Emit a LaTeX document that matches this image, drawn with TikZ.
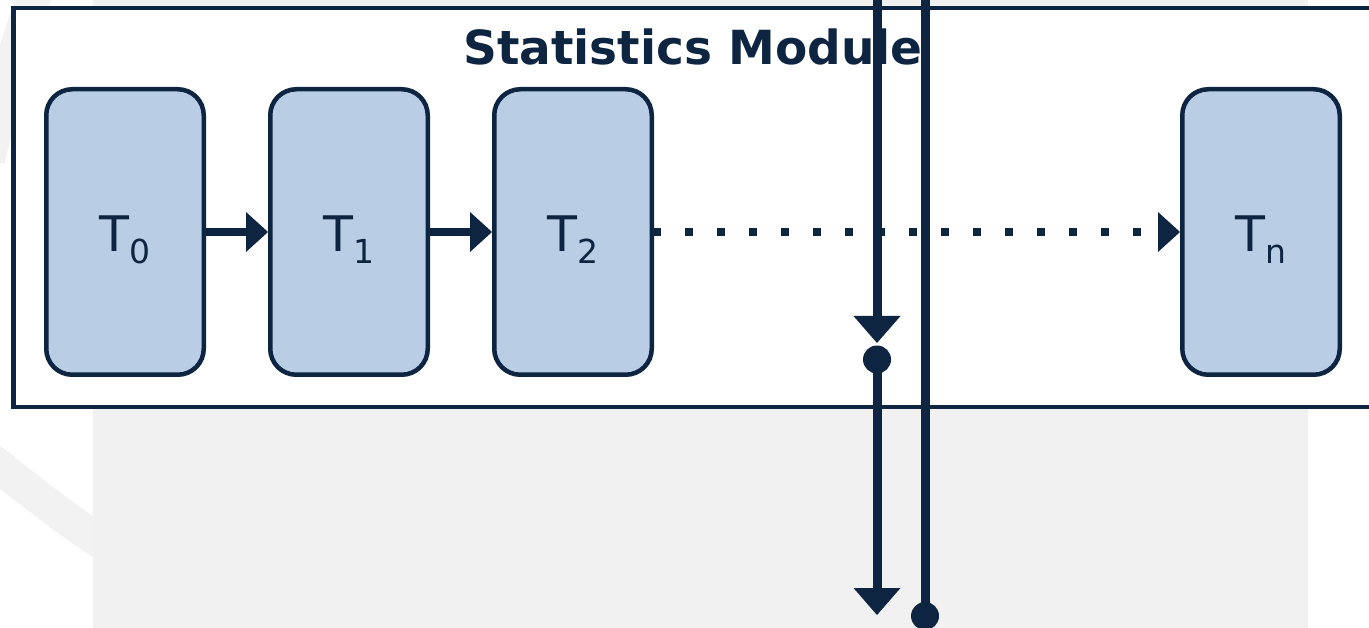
\documentclass[tikz,border=0pt]{standalone}
\usepackage{fontspec}
\setmainfont{DejaVu Sans}
\usetikzlibrary{arrows.meta}

\definecolor{navy}{HTML}{0D2541}
\definecolor{taskfill}{HTML}{B9CDE4}
\definecolor{panelgray}{HTML}{F1F1F1}
\definecolor{ringgray}{HTML}{F2F2F2}

% T with a lowered index, as used on every task box
\newcommand{\tasklabel}[1]{\fontsize{49}{49}\selectfont T\raisebox{-12pt}{\fontsize{33}{33}\selectfont #1}}

\tikzset{
  taskbox/.style={draw=navy, fill=taskfill, line width=4.5pt, rounded corners=26pt,
    minimum width=157.5pt, minimum height=285.5pt, inner sep=0pt, outer sep=2.25pt,
    text=navy, text height=40pt, text depth=0pt},
  flow/.style={navy, line width=8pt, -{Triangle[length=22pt,width=40pt,line width=0pt]}},
  dotflow/.style={navy, line width=8pt, dash pattern=on 8pt off 24pt,
    -{Triangle[length=22pt,width=40pt,line width=0pt]}},
  wire/.style={navy, line width=9pt},
  wirearrow/.style={wire, -{Triangle[length=27pt,width=47pt,line width=0pt]}},
  junction/.style={circle, fill=navy, minimum size=28pt, inner sep=0pt, outer sep=0pt},
  module/.style={draw=navy, fill=white, line width=4.5pt},
  swoosh/.style={draw=ringgray, line width=34pt}
}

\begin{document}
\begin{tikzpicture}[x=1pt,y=-1pt]
  \useasboundingbox (0,0) rectangle (1369,628);
  \clip (0,0) rectangle (1369,628);

  % backdrop: faint swooshes and grey panel
  \draw[swoosh] (-12,160) .. controls (2,100) and (14,50) .. (40,-20);
  \draw[swoosh] (-30,444) .. controls (30,490) and (60,516) .. (110,548);
  \fill[panelgray] (93,-5) rectangle (1308,640);

  % module frame
  \draw[module] (13.3,7.8) rectangle (1400,407);
  \node[navy, anchor=base, font=\fontsize{47}{47}\selectfont\bfseries] (title)
    at (693,65) {Statistics Module};

  % tasks
  \node[taskbox] (t0) at (125,232) {\tasklabel{0}};
  \node[taskbox] (t1) at (349,232) {\tasklabel{1}};
  \node[taskbox] (t2) at (573,232) {\tasklabel{2}};
  \node[taskbox] (tn) at (1261,232) {\tasklabel{n}};

  \draw[flow] (t0.east) -- (t1.west);
  \draw[flow] (t1.east) -- (t2.west);
  \draw[dotflow] ([xshift=-1pt]t2.east) -- (tn.west);

  % signal wires crossing the module
  \coordinate (in1) at (877,-10);
  \coordinate (tip1) at (877,343);
  \coordinate (out1) at (877,615);
  \coordinate (in2) at (925,-10);
  \node[junction] (j1) at (877,359.5) {};
  \node[junction] (j2) at (925,616) {};

  \draw[wirearrow] (in1) -- (tip1);
  \draw[wirearrow] (j1.center) -- (out1);
  \draw[wire] (in2) -- (j2.center);
\end{tikzpicture}
\end{document}
